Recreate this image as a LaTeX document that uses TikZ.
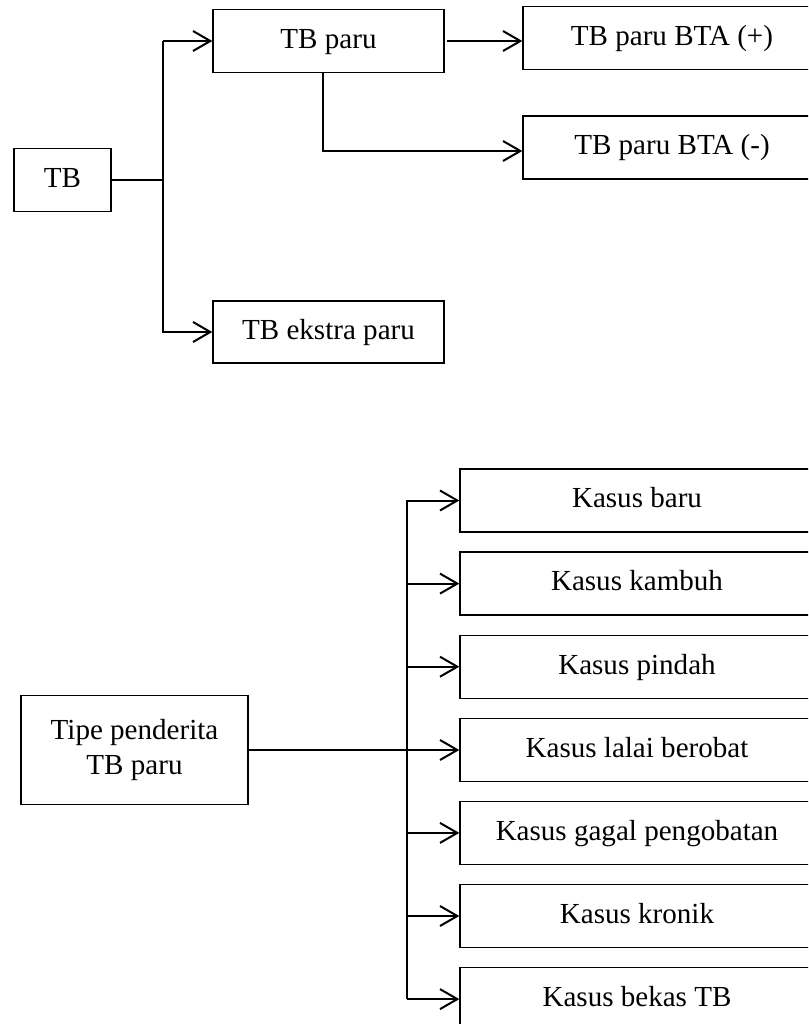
\documentclass[tikz,border=0pt]{standalone}
\usepackage{fontspec}
\setmainfont{Liberation Serif}
\usetikzlibrary{arrows.meta}
\begin{document}
\begin{tikzpicture}[x=0.75pt,y=-0.75pt,
  basebox/.style={draw, line width=1pt, inner sep=0pt, font=\fontsize{21.8}{26.25}\selectfont, align=center},
  box/.style={basebox, text height=16pt, text depth=5pt},
  conn/.style={line width=1.5pt},
  arr/.style={conn, -{Straight Barb[length=13pt,width=15pt]}}]
\useasboundingbox (0,0) rectangle (808,1024);
\clip (0,0) rectangle (808,1024);

% top diagram
\node[box, minimum width=72.75pt, minimum height=47.25pt] (tb) at (62.5,180) {TB};
\node[box, minimum width=173.25pt, minimum height=47.25pt] (tbparu) at (328.5,41) {TB paru};
\node[box, minimum width=173.25pt, minimum height=46.5pt] (ekstra) at (328.5,332) {TB ekstra paru};
\node[box, minimum width=223.5pt, minimum height=47.25pt] (bta1) at (672,38) {TB paru BTA (+)};
\node[box, minimum width=223.5pt, minimum height=47.25pt] (bta2) at (672,147.5) {TB paru BTA (-)};

\coordinate (busA) at (163,0);
\coordinate (drop) at (323,151);
\draw[conn] (tb.east) -- (tb.east -| busA);
\draw[arr] (tbparu.west -| busA) -- (tbparu.west);
\draw[arr] (tbparu.west -| busA) -- (ekstra.west -| busA) -- (ekstra.west);
\draw[arr, shorten <=2pt] (tbparu.east) -- (tbparu.east -| bta1.west);
\draw[arr] (drop |- tbparu.south) -- (drop) -- (drop -| bta2.west);

% bottom diagram
\node[basebox, minimum width=170.25pt, minimum height=81.75pt] (tipe) at (134.5,750) {Tipe penderita\\TB paru};
\node[box, minimum width=265.5pt, minimum height=47.25pt] (k1) at (637,500.5) {Kasus baru};
\node[box, minimum width=265.5pt, minimum height=47.25pt] (k2) at (637,583.6) {Kasus kambuh};
\node[box, minimum width=265.5pt, minimum height=47.25pt] (k3) at (637,666.7) {Kasus pindah};
\node[box, minimum width=265.5pt, minimum height=47.25pt] (k4) at (637,750) {Kasus lalai berobat};
\node[box, minimum width=265.5pt, minimum height=47.25pt] (k5) at (637,832.9) {Kasus gagal pengobatan};
\node[box, minimum width=265.5pt, minimum height=47.25pt] (k6) at (637,916) {Kasus kronik};
\node[box, minimum width=265.5pt, minimum height=47.25pt] (k7) at (637,999.1) {Kasus bekas TB};

\coordinate (busB) at (407,0);
\draw[arr] (k7.west -| busB) -- (k1.west -| busB) -- (k1.west);
\foreach \k in {k2,k3,k5,k6}{
  \draw[arr] (\k.west -| busB) -- (\k.west);
}
\draw[arr] (k7.west -| busB) -- (k7.west);
\draw[arr] (tipe.east) -- (k4.west);
\end{tikzpicture}
\end{document}
